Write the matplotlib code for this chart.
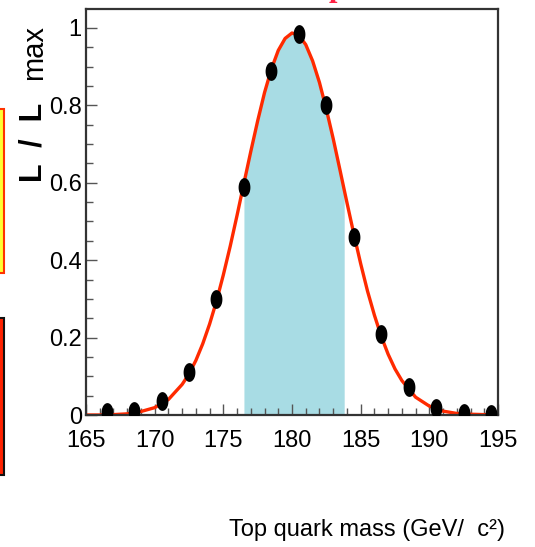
import matplotlib
matplotlib.use("Agg")
import matplotlib.pyplot as plt
from matplotlib import font_manager
from matplotlib.path import Path
from matplotlib.patches import Rectangle
from matplotlib.ticker import MultipleLocator
import numpy as np

# scan points of the likelihood
mass_pts = [166.5, 168.5, 170.5, 172.5, 174.5, 176.5, 178.5, 180.5,
            182.5, 184.5, 186.5, 188.5, 190.5, 192.5, 194.5]
like_pts = [0.008, 0.01, 0.035, 0.11, 0.30, 0.59, 0.89, 0.985,
            0.80, 0.46, 0.21, 0.072, 0.018, 0.004, 0.003]

# fitted curve
curve_x = [165, 166, 167, 168, 169, 170, 171, 172, 172.5, 173, 173.5, 174,
           174.5, 175, 175.5, 176, 176.5, 177, 177.5, 178, 178.5, 179,
           179.5, 180, 180.5, 181, 181.5, 182, 182.5, 183, 183.5, 183.8,
           184, 184.5, 185, 185.5, 186, 186.5, 187, 187.5, 188, 189, 190,
           191, 192, 193, 194, 195]
curve_y = [0.0, 0.0, 0.001, 0.003, 0.009, 0.019, 0.040, 0.079, 0.106, 0.141,
           0.184, 0.235, 0.294, 0.362, 0.436, 0.516, 0.599, 0.681, 0.760,
           0.833, 0.894, 0.942, 0.973, 0.987, 0.981, 0.957, 0.915, 0.859,
           0.790, 0.714, 0.632, 0.582, 0.549, 0.468, 0.391, 0.320, 0.258,
           0.203, 0.157, 0.119, 0.089, 0.046, 0.023, 0.010, 0.004, 0.002,
           0.001, 0.0]

band_lo, band_hi = 176.5, 183.8

names = {f.name for f in font_manager.fontManager.ttflist}
fam = "Liberation Sans Narrow" if "Liberation Sans Narrow" in names else "Liberation Sans"

W, H = 535, 547
fig = plt.figure(figsize=(W / 100, H / 100), dpi=100)
ax = fig.add_axes([86 / W, 1 - 415 / H, 412 / W, 406 / H])

cx = np.array(curve_x)
cy = np.array(curve_y)
inside = (cx >= band_lo) & (cx <= band_hi)
ax.fill_between(cx[inside], 0, cy[inside], color="#a8dce4", lw=0, zorder=1)
ax.plot(cx, cy, color="#ff2a00", lw=2.4, zorder=2)

# tall oval dots
t = np.linspace(0, 2 * np.pi, 60)
oval = Path(np.column_stack([0.6 * np.cos(t), np.sin(t)]), closed=True)
ax.plot(mass_pts, like_pts, ls="none", marker=oval, ms=12.5,
        color="black", zorder=3)

ax.set_xlim(165, 195)
ax.set_ylim(0, 1.049)
ax.xaxis.set_major_locator(MultipleLocator(5))
ax.xaxis.set_minor_locator(MultipleLocator(1))
ax.yaxis.set_minor_locator(MultipleLocator(0.05))
ax.set_yticks([0, 0.2, 0.4, 0.6, 0.8, 1.0])
ax.set_yticklabels(["0", "0.2", "0.4", "0.6", "0.8", "1"])
ax.tick_params(which="both", direction="in", color="#555555", width=1)
ax.tick_params(which="major", length=8)
ax.tick_params(which="minor", length=5)
ax.tick_params(axis="x", pad=11)
ax.tick_params(axis="y", pad=3)
for lab in ax.get_xticklabels() + ax.get_yticklabels():
    lab.set_family(fam)
    lab.set_fontsize(17)
for s in ax.spines.values():
    s.set_color("#333333")
    s.set_linewidth(1.6)

fig.text(505 / W, 11 / H, "Top quark mass (GeV/  c²)", family=fam,
         fontsize=17, ha="right", va="baseline")

# y label: bold L / L, plain max
fig.text(42 / W, 1 - 182 / H, "L  /  L", rotation=90, rotation_mode="anchor",
         ha="left", va="baseline", fontsize=22, fontweight="bold",
         family="Liberation Sans")
fig.text(42 / W, 1 - 80 / H, "max", rotation=90, rotation_mode="anchor",
         ha="left", va="baseline", fontsize=21, family="Liberation Sans")

# bits of the slide around the plot
fig.patches.append(Rectangle((-20 / W, 1 - 273 / H), 24 / W, 164 / H,
                             transform=fig.transFigure, facecolor="#ffff33",
                             edgecolor="#ff3300", lw=1.5))
fig.patches.append(Rectangle((-20 / W, 1 - 475 / H), 24 / W, 157 / H,
                             transform=fig.transFigure, facecolor="#ff2200",
                             edgecolor="#111111", lw=1.5))
fig.text(337 / W, 1 + 4 / H, "p", color="#ff2244", fontsize=22,
         fontweight="bold", family="Liberation Serif", ha="center",
         va="baseline")

fig.savefig("out.png", dpi=100)
